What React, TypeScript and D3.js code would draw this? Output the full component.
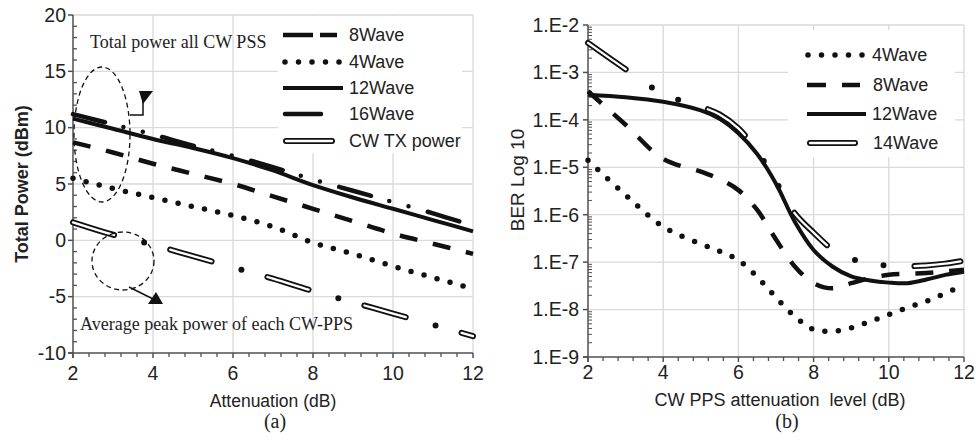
import React from "react";
import * as d3 from "d3";

// Chart (a): total power vs attenuation
const attenuation = [2, 3, 4, 5, 6, 7, 8, 9, 10, 11, 12];
const power8Wave = [8.7, 7.8, 6.8, 5.9, 5.0, 3.9, 2.8, 1.7, 0.6, -0.3, -1.2];
const power4Wave = [5.5, 4.6, 3.8, 3.0, 2.2, 1.2, -0.2, -1.2, -2.3, -3.3, -4.3];
const power12Wave = [10.8, 9.9, 9.0, 8.2, 7.3, 6.2, 4.9, 3.8, 2.8, 1.8, 0.8];
const power16Wave = [11.2, 10.3, 9.4, 8.4, 7.5, 6.5, 5.4, 4.4, 3.4, 2.4, 1.3];
const powerCwTx = [1.6, 0.5, -0.4, -1.4, -2.4, -3.4, -4.5, -5.5, -6.5, -7.5, -8.5];
const powerTicks = [-10, -5, 0, 5, 10, 15, 20];
const attTicks = [2, 4, 6, 8, 10, 12];

// Chart (b): BER vs CW PPS attenuation
const berX = [2, 3, 4, 5, 5.5, 6, 6.5, 7, 7.5, 8, 8.5, 9, 9.5, 10, 10.5, 11, 11.5, 12];
const ber4Wave = [1.4e-5, 2.6e-6, 5.6e-7, 2.4e-7, 1.7e-7, 1.1e-7, 4.9e-8, 1.8e-8, 7.2e-9, 3.8e-9, 3.5e-9, 4.1e-9, 5.6e-9, 7.8e-9, 1.1e-8, 1.5e-8, 2.2e-8, 3.3e-8];
const ber8Wave = [4.0e-4, 7.9e-5, 1.5e-5, 8.1e-6, 5.6e-6, 3.3e-6, 1.26e-6, 3.0e-7, 8.1e-8, 3.6e-8, 2.8e-8, 3.6e-8, 4.6e-8, 5.4e-8, 5.7e-8, 5.9e-8, 6.4e-8, 6.9e-8];
const ber12Wave = [3.4e-4, 3.0e-4, 2.4e-4, 1.58e-4, 1.05e-4, 5.2e-5, 1.9e-5, 4.5e-6, 7.1e-7, 1.8e-7, 8.1e-8, 5.0e-8, 4.1e-8, 3.7e-8, 3.6e-8, 4.3e-8, 5.4e-8, 6.3e-8];
const ber14Wave = [4.2e-3, 1.17e-3, 3.5e-4, 1.9e-4, 1.3e-4, 6.6e-5, 2.2e-5, 5.0e-6, 1.07e-6, 4.2e-7, 1.86e-7, 1.17e-7, 9.5e-8, 8.4e-8, 8.2e-8, 8.5e-8, 9.3e-8, 1.07e-7];
const berTicks = [1e-9, 1e-8, 1e-7, 1e-6, 1e-5, 1e-4, 1e-3, 1e-2];
const berTickLabels = ["1.E-9", "1.E-8", "1.E-7", "1.E-6", "1.E-5", "1.E-4", "1.E-3", "1.E-2"];

const SANS = "'Liberation Sans', Arial, sans-serif";
const SERIF = "'Liberation Serif', 'Times New Roman', serif";
const AXIS = "#505050";
const GRID = "#d9d9d9";
const INK = "#111";
const TICK_FONT = 19.5;

// line styles
const styles: any = {
  solid: [{ w: 4, dash: null, cap: "butt", color: INK }],
  dash: [{ w: 4.5, dash: "18,16", cap: "butt", color: INK }],
  dot: [{ w: 5.5, dash: "0,13.5", cap: "round", color: INK }],
  dashDotDot: [{ w: 4.5, dash: "33,19,0,20,0,20", cap: "round", color: INK }],
  doubleA: [
    { w: 6, dash: "43,31,0,27", cap: "round", color: INK },
    { w: 2.3, dash: "43,58", cap: "round", color: "#fff" },
  ],
  doubleB: [
    { w: 6, dash: "46,32,0,29,0,31", cap: "round", color: INK },
    { w: 2.3, dash: "46,92", cap: "round", color: "#fff" },
  ],
};

function Series({ d, style }: any) {
  return (
    <g>
      {styles[style].map((s: any, i: number) => (
        <path key={i} d={d} fill="none" stroke={s.color} strokeWidth={s.w}
          strokeDasharray={s.dash || undefined} strokeLinecap={s.cap} strokeLinejoin="round" />
      ))}
    </g>
  );
}

function LegendRow({ x1, x2, y, style, label, tx, dash }: any) {
  const d = `M${x1},${y}L${x2},${y}`;
  return (
    <g>
      {styles[style].map((s: any, i: number) => (
        <path key={i} d={d} fill="none" stroke={s.color} strokeWidth={s.w}
          strokeDasharray={(i === 0 && dash) ? dash : (s.dash && style.startsWith("double") ? undefined : s.dash) || undefined}
          strokeLinecap={s.cap} />
      ))}
      <text x={tx} y={y} dy="0.35em" fontSize={18} fontFamily={SANS} fill="#222">{label}</text>
    </g>
  );
}

function ChartA() {
  const x = d3.scaleLinear().domain([2, 12]).range([73, 473]);
  const y = d3.scaleLinear().domain([-10, 20]).range([353, 15]);
  const line = d3.line<number>().x((_, i) => x(attenuation[i])).y((v) => y(v)).curve(d3.curveMonotoneX);
  const minorX = d3.range(2, 12.001, 0.4).filter((v) => Math.abs(v / 2 - Math.round(v / 2)) > 0.01);
  const minorY = d3.range(-10, 20.001, 1).filter((v) => v % 5 !== 0);
  return (
    <g>
      {attTicks.slice(1).map((t) => (
        <line key={"gx" + t} x1={x(t)} x2={x(t)} y1={y(-10)} y2={y(20)} stroke={GRID} strokeWidth={1.3} />
      ))}
      {powerTicks.slice(1).map((t) => (
        <line key={"gy" + t} x1={x(2)} x2={x(12)} y1={y(t)} y2={y(t)} stroke={GRID} strokeWidth={1.3} />
      ))}
      {/* legend box */}
      <rect x={278} y={16} width={184} height={137} fill="#fff" />
      {/* axes */}
      <line x1={x(2)} x2={x(2)} y1={y(20)} y2={y(-10) + 5} stroke={AXIS} strokeWidth={1.5} />
      <line x1={x(2) - 5} x2={x(12)} y1={y(-10)} y2={y(-10)} stroke={AXIS} strokeWidth={1.5} />
      {powerTicks.map((t) => (
        <g key={"ty" + t}>
          <line x1={x(2) - 5} x2={x(2)} y1={y(t)} y2={y(t)} stroke={AXIS} strokeWidth={1.5} />
          <text x={x(2) - 7} y={y(t)} dy="0.35em" textAnchor="end" fontSize={TICK_FONT} fontFamily={SANS} fill="#222">{t}</text>
        </g>
      ))}
      {minorY.map((t) => (
        <line key={"my" + t} x1={x(2)} x2={x(2) + 4} y1={y(t)} y2={y(t)} stroke={AXIS} strokeWidth={1.3} />
      ))}
      {attTicks.map((t) => (
        <g key={"tx" + t}>
          <line x1={x(t)} x2={x(t)} y1={y(-10)} y2={y(-10) + 5} stroke={AXIS} strokeWidth={1.5} />
          <text x={x(t)} y={380} textAnchor="middle" fontSize={TICK_FONT} fontFamily={SANS} fill="#222">{t}</text>
        </g>
      ))}
      {minorX.map((t) => (
        <line key={"mx" + t} x1={x(t)} x2={x(t)} y1={y(-10)} y2={y(-10) + 4} stroke={AXIS} strokeWidth={1.3} />
      ))}
      <text x={273} y={407} textAnchor="middle" fontSize={17.5} fontFamily={SANS} fill="#222">Attenuation (dB)</text>
      <text transform={`translate(28,184) rotate(-90)`} textAnchor="middle" fontSize={18} fontWeight="bold" fontFamily={SANS} fill="#222">Total Power (dBm)</text>
      <text x={275} y={428} textAnchor="middle" fontSize={20} fontFamily={SERIF} fill="#222">(a)</text>

      {/* series */}
      <Series d={line(powerCwTx)} style="doubleA" />
      <Series d={line(power4Wave)} style="dot" />
      <Series d={line(power8Wave)} style="dash" />
      <Series d={line(power12Wave)} style="solid" />
      <Series d={line(power16Wave)} style="dashDotDot" />

      {/* annotations */}
      <text x={90} y={48} fontSize={18} fontFamily={SERIF} fill="#222">Total power all CW PSS</text>
      <text x={80} y={330} fontSize={18} fontFamily={SERIF} fill="#222">Average peak power of each CW-PPS</text>
      <ellipse cx={102} cy={134.5} rx={28} ry={67.5} fill="none" stroke={INK} strokeWidth={1.3} strokeDasharray="5,3.5" />
      <ellipse cx={123} cy={261} rx={31} ry={29} fill="none" stroke={INK} strokeWidth={1.3} strokeDasharray="5,3.5" />
      <polyline points="130,115 143,115 143,100" fill="none" stroke={INK} strokeWidth={1.5} />
      <polygon points="139,91 153,91 143,104" fill={INK} />
      <line x1={129} y1={287} x2={153} y2={299} stroke={INK} strokeWidth={1.5} />
      <polygon points="148,304 156,292 163,304" fill={INK} />

      {/* legend */}
      <LegendRow x1={283} x2={337} y={35} style="dash" dash="30,7,17" label="8Wave" tx={349} />
      <LegendRow x1={285} x2={341} y={62} style="dot" label="4Wave" tx={349} />
      <LegendRow x1={283} x2={343} y={88} style="solid" label="12Wave" tx={349} />
      <LegendRow x1={285} x2={339} y={114} style="dashDotDot" dash="36,18,0,100" label="16Wave" tx={349} />
      <LegendRow x1={286} x2={332} y={141} style="doubleA" label="CW TX power" tx={349} />
    </g>
  );
}

function ChartB() {
  const x = d3.scaleLinear().domain([2, 12]).range([588, 964]);
  const y = d3.scaleLog().domain([1e-9, 1e-2]).range([357, 25]);
  const line = d3.line<number>().x((_, i) => x(berX[i])).y((v) => y(v)).curve(d3.curveCatmullRom.alpha(0.5));
  const minorX = d3.range(2, 12.001, 0.4).filter((v) => Math.abs(v / 2 - Math.round(v / 2)) > 0.01);
  const minorY: number[] = [];
  berTicks.slice(0, -1).forEach((b) => { for (let k = 2; k <= 9; k++) minorY.push(b * k); });
  return (
    <g>
      {attTicks.slice(1).map((t) => (
        <line key={"gx" + t} x1={x(t)} x2={x(t)} y1={y(1e-9)} y2={y(1e-2)} stroke={GRID} strokeWidth={1.3} />
      ))}
      {berTicks.slice(1).map((t) => (
        <line key={"gy" + t} x1={x(2)} x2={x(12)} y1={y(t)} y2={y(t)} stroke={GRID} strokeWidth={1.3} />
      ))}
      <rect x={788} y={30} width={167} height={127} fill="#fff" />
      <line x1={x(2)} x2={x(2)} y1={y(1e-2)} y2={y(1e-9) + 5} stroke={AXIS} strokeWidth={1.5} />
      <line x1={x(2) - 5} x2={x(12)} y1={y(1e-9)} y2={y(1e-9)} stroke={AXIS} strokeWidth={1.5} />
      {berTicks.map((t, i) => (
        <g key={"ty" + i}>
          <line x1={x(2) - 5} x2={x(2)} y1={y(t)} y2={y(t)} stroke={AXIS} strokeWidth={1.5} />
          <text x={x(2) - 9} y={y(t)} dy="0.35em" textAnchor="end" fontSize={TICK_FONT} fontFamily={SANS} fill="#222">{berTickLabels[i]}</text>
        </g>
      ))}
      {minorY.map((t, i) => (
        <line key={"my" + i} x1={x(2)} x2={x(2) + 4} y1={y(t)} y2={y(t)} stroke={AXIS} strokeWidth={1} />
      ))}
      {attTicks.map((t) => (
        <g key={"tx" + t}>
          <line x1={x(t)} x2={x(t)} y1={y(1e-9)} y2={y(1e-9) + 5} stroke={AXIS} strokeWidth={1.5} />
          <text x={x(t)} y={379} textAnchor="middle" fontSize={TICK_FONT} fontFamily={SANS} fill="#222">{t}</text>
        </g>
      ))}
      {minorX.map((t) => (
        <line key={"mx" + t} x1={x(t)} x2={x(t)} y1={y(1e-9)} y2={y(1e-9) + 4} stroke={AXIS} strokeWidth={1.3} />
      ))}
      <text x={780} y={406} textAnchor="middle" fontSize={18} fontFamily={SANS} fill="#222" style={{ whiteSpace: "pre" }}>CW PPS attenuation  level (dB)</text>
      <text transform={`translate(524,180) rotate(-90)`} textAnchor="middle" fontSize={19} fontFamily={SANS} fill="#222">BER Log 10</text>
      <text x={787} y={428} textAnchor="middle" fontSize={20} fontFamily={SERIF} fill="#222">(b)</text>

      <Series d={line(ber14Wave)} style="doubleB" />
      <Series d={line(ber4Wave)} style="dot" />
      <Series d={line(ber8Wave)} style="dash" />
      <Series d={line(ber12Wave)} style="solid" />

      <LegendRow x1={808} x2={864} y={55} style="dot" label="4Wave" tx={872} />
      <LegendRow x1={807} x2={860} y={85} style="dash" dash="19,16,18" label="8Wave" tx={873} />
      <LegendRow x1={807} x2={866} y={114} style="solid" label="12Wave" tx={872} />
      <LegendRow x1={810} x2={855} y={143} style="doubleB" label="14Wave" tx={873} />
    </g>
  );
}

export default function App() {
  return (
    <svg width={976} height={440} style={{ position: "absolute", left: 0, top: 0, background: "#fff" }}>
      <rect width={976} height={440} fill="#fff" />
      <ChartA />
      <ChartB />
    </svg>
  );
}
